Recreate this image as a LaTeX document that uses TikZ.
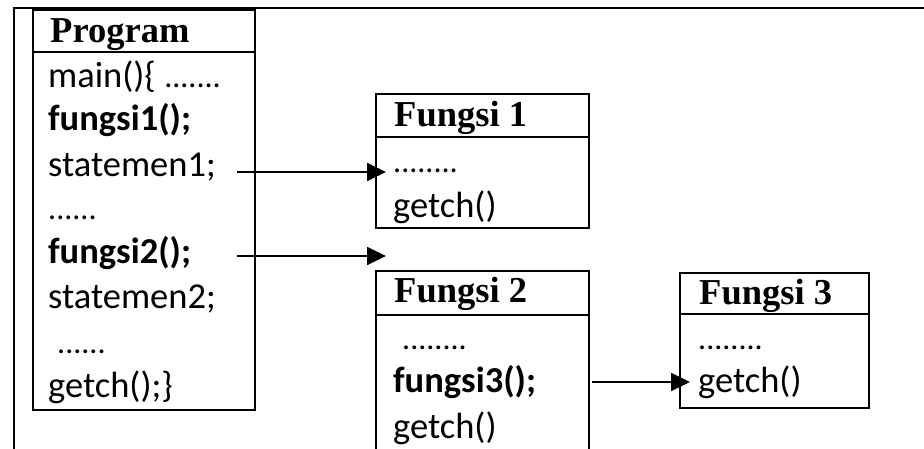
\documentclass[tikz,border=0pt]{standalone}
\usepackage{fontspec}
\setmainfont{Liberation Serif}
\newfontfamily\bodyfont{Carlito}
\usetikzlibrary{arrows.meta}
\begin{document}
\begin{tikzpicture}[x=1pt,y=-1pt,
  box/.style={draw, line width=2.2pt, inner sep=0pt, anchor=north west},
  hd/.style={anchor=base west, inner sep=0pt, font=\fontsize{36.5}{36}\selectfont\bfseries},
  bd/.style={anchor=base west, inner sep=0pt, font=\fontsize{36.5}{36}\bodyfont},
  dots/.style={anchor=base west, inner sep=0pt, font=\fontsize{32}{36}\bodyfont},
  bdb/.style={anchor=base west, inner sep=0pt, font=\fontsize{36.5}{36}\bodyfont\bfseries},
  link/.style={line width=1.8pt, -{Triangle[length=19pt,width=18pt]}}]
\useasboundingbox (0,0) rectangle (924,449);
\clip (0,0) rectangle (924,449);
\fill[white] (0,0) rectangle (924,449);
% frame lines
\coordinate (tl) at (14,8);
\coordinate (tr) at (924,8);
\coordinate (bl) at (14,449);
\draw[line width=2.8pt] (tr) -- (tl) -- (bl);
% Program box
\node[box, minimum width=222pt, minimum height=400pt] (prog) at (32,9) {};
\draw[line width=2.2pt] (prog.west |- 0,52) -- (prog.east |- 0,52);
\node[hd] (ph) at (50,43) {Program};
\node[bd] (p1) at (48,88) {main()\{ {\fontsize{32}{36}\selectfont .......}};
\node[bdb] (p2) at (48,131) {fungsi1();};
\node[bd] (p3) at (48,177) {statemen1;};
\node[dots] (p4) at (48,220) {......};
\node[bdb] (p5) at (48,264) {fungsi2();};
\node[bd] (p6) at (48,308) {statemen2;};
\node[dots] (p7) at (57,353) {......};
\node[bd] (p8) at (48,397) {getch();\}};
% Fungsi 1
\node[box, minimum width=213pt, minimum height=134pt] (f1) at (375,93) {};
\draw[line width=2.2pt] (f1.west |- 0,137) -- (f1.east |- 0,137);
\node[hd] (f1h) at (394,127) {Fungsi 1};
\node[dots] (f1a) at (393,173) {........};
\node[bd] (f1b) at (393,218) {getch()};
% Fungsi 2
\node[box, minimum width=213pt, minimum height=220pt] (f2) at (375,270) {};
\draw[line width=2.2pt] (f2.west |- 0,315) -- (f2.east |- 0,315);
\node[hd] (f2h) at (394,302) {Fungsi 2};
\node[dots] (f2a) at (402,349) {........};
\node[bdb] (f2b) at (393,392) {fungsi3();};
\node[bd] (f2c) at (393,438) {getch()};
% Fungsi 3
\node[box, minimum width=189pt, minimum height=135pt] (f3) at (679,272) {};
\draw[line width=2.2pt] (f3.west |- 0,314) -- (f3.east |- 0,314);
\node[hd] (f3h) at (699,304) {Fungsi 3};
\node[dots] (f3a) at (698,349) {........};
\node[bd] (f3b) at (698,392) {getch()};
% connectors
\coordinate (a1s) at (237,172);
\coordinate (a1e) at (386,172);
\coordinate (a2s) at (237,256);
\coordinate (a2e) at (386,256);
\coordinate (a3s) at (592,382);
\coordinate (a3e) at (690,382);
\draw[link] (a1s) -- (a1e);
\draw[link] (a2s) -- (a2e);
\draw[link] (a3s) -- (a3e);
\end{tikzpicture}
\end{document}
